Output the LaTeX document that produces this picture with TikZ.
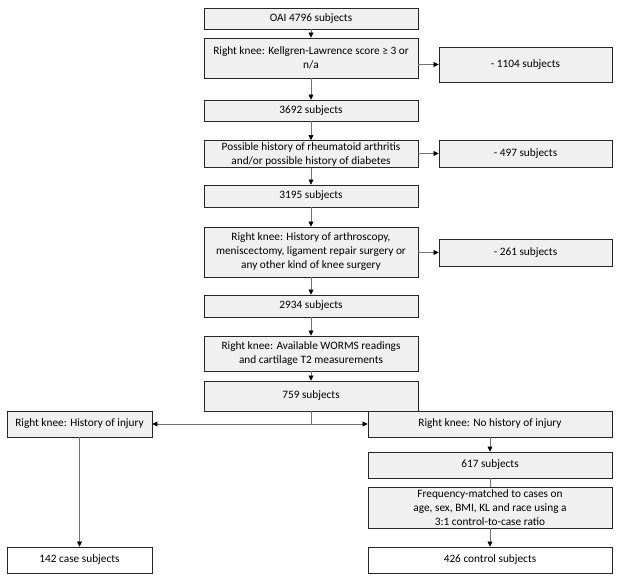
\documentclass[tikz,border=0pt]{standalone}
\usepackage{fontspec}
\setmainfont{Carlito}
\usetikzlibrary{arrows.meta}

\tikzset{
  box/.style={draw=black!85, line width=0.9pt, fill=black!6, align=center,
    inner sep=0pt, font=\fontsize{11.3}{14}\selectfont},
  endbox/.style={box, fill=white},
  link/.style={draw=black!55, line width=0.7pt},
  arr/.style={link, -{Triangle[length=5pt,width=5pt,color=black]}}
}

\begin{document}
\begin{tikzpicture}[x=1pt,y=-1pt]
  \useasboundingbox (0,0) rectangle (624,585);
  % main column
  \node[box, minimum width=214pt, minimum height=21pt] (oai) at (311,18.5) {OAI 4796 subjects};
  \node[box, minimum width=214pt, minimum height=40pt] (klg) at (311,58) {Right knee: Kellgren-Lawrence score ≥ 3 or\\n/a};
  \node[box, minimum width=214pt, minimum height=21pt] (n3692) at (311,110.5) {3692 subjects};
  \node[box, minimum width=214pt, minimum height=27pt] (ra) at (311,154) {Possible history of rheumatoid arthritis\\and/or possible history of diabetes};
  \node[box, minimum width=214pt, minimum height=22pt] (n3195) at (311,196) {3195 subjects};
  \node[box, minimum width=214pt, minimum height=50pt] (surg) at (311,252) {Right knee: History of arthroscopy,\\meniscectomy, ligament repair surgery or\\any other kind of knee surgery};
  \node[box, minimum width=214pt, minimum height=22pt] (n2934) at (311,306) {2934 subjects};
  \node[box, minimum width=214pt, minimum height=35pt] (worms) at (311,353.5) {Right knee: Available WORMS readings\\and cartilage T2 measurements};
  \node[box, minimum width=214pt, minimum height=30pt] (n759) at (311,396) {759 subjects};
  % excluded
  \node[box, minimum width=173pt, minimum height=35pt] (x1104) at (525.5,64.5) {- 1104 subjects};
  \node[box, minimum width=173pt, minimum height=27pt] (x497) at (525.5,153.5) {- 497 subjects};
  \node[box, minimum width=173pt, minimum height=27pt] (x261) at (525.5,252.5) {- 261 subjects};
  % branches
  \node[box, minimum width=145pt, minimum height=26pt] (inj) at (79.5,424) {Right knee: History of injury};
  \node[box, minimum width=244pt, minimum height=26pt] (noinj) at (490,424) {Right knee: No history of injury};
  \node[box, minimum width=244pt, minimum height=26pt] (n617) at (490,465) {617 subjects};
  \node[box, minimum width=244pt, minimum height=41pt] (freq) at (490,507.5) {Frequency-matched to cases on\\age, sex, BMI, KL and race using a\\3:1 control-to-case ratio};
  \node[endbox, minimum width=145pt, minimum height=26pt] (cases) at (79.5,560) {142 case subjects};
  \node[endbox, minimum width=244pt, minimum height=26pt] (ctrls) at (490,560) {426 control subjects};

  \draw[arr] (oai) -- (klg);
  \draw[arr] (klg) -- (n3692);
  \draw[arr] (n3692) -- (ra);
  \draw[arr] (ra) -- (n3195);
  \draw[arr] (n3195) -- (surg);
  \draw[arr] (surg) -- (n2934);
  \draw[arr] (n2934) -- (worms);
  \draw[arr] (worms) -- (n759);
  \draw[arr] (klg.east |- x1104.west) -- (x1104.west);
  \draw[arr] (ra.east |- x497.west) -- (x497.west);
  \draw[arr] (surg.east |- x261.west) -- (x261.west);
  \draw[link] (n759.south) -- (n759.south |- inj.east) coordinate (split);
  \draw[arr] (split) -- (inj.east);
  \draw[arr] (split) -- (noinj.west);
  \draw[arr] (noinj) -- (n617);
  \draw[link] (n617) -- (freq);
  \draw[arr] (freq) -- (ctrls);
  \draw[arr] (inj) -- (cases);
\end{tikzpicture}
\end{document}
